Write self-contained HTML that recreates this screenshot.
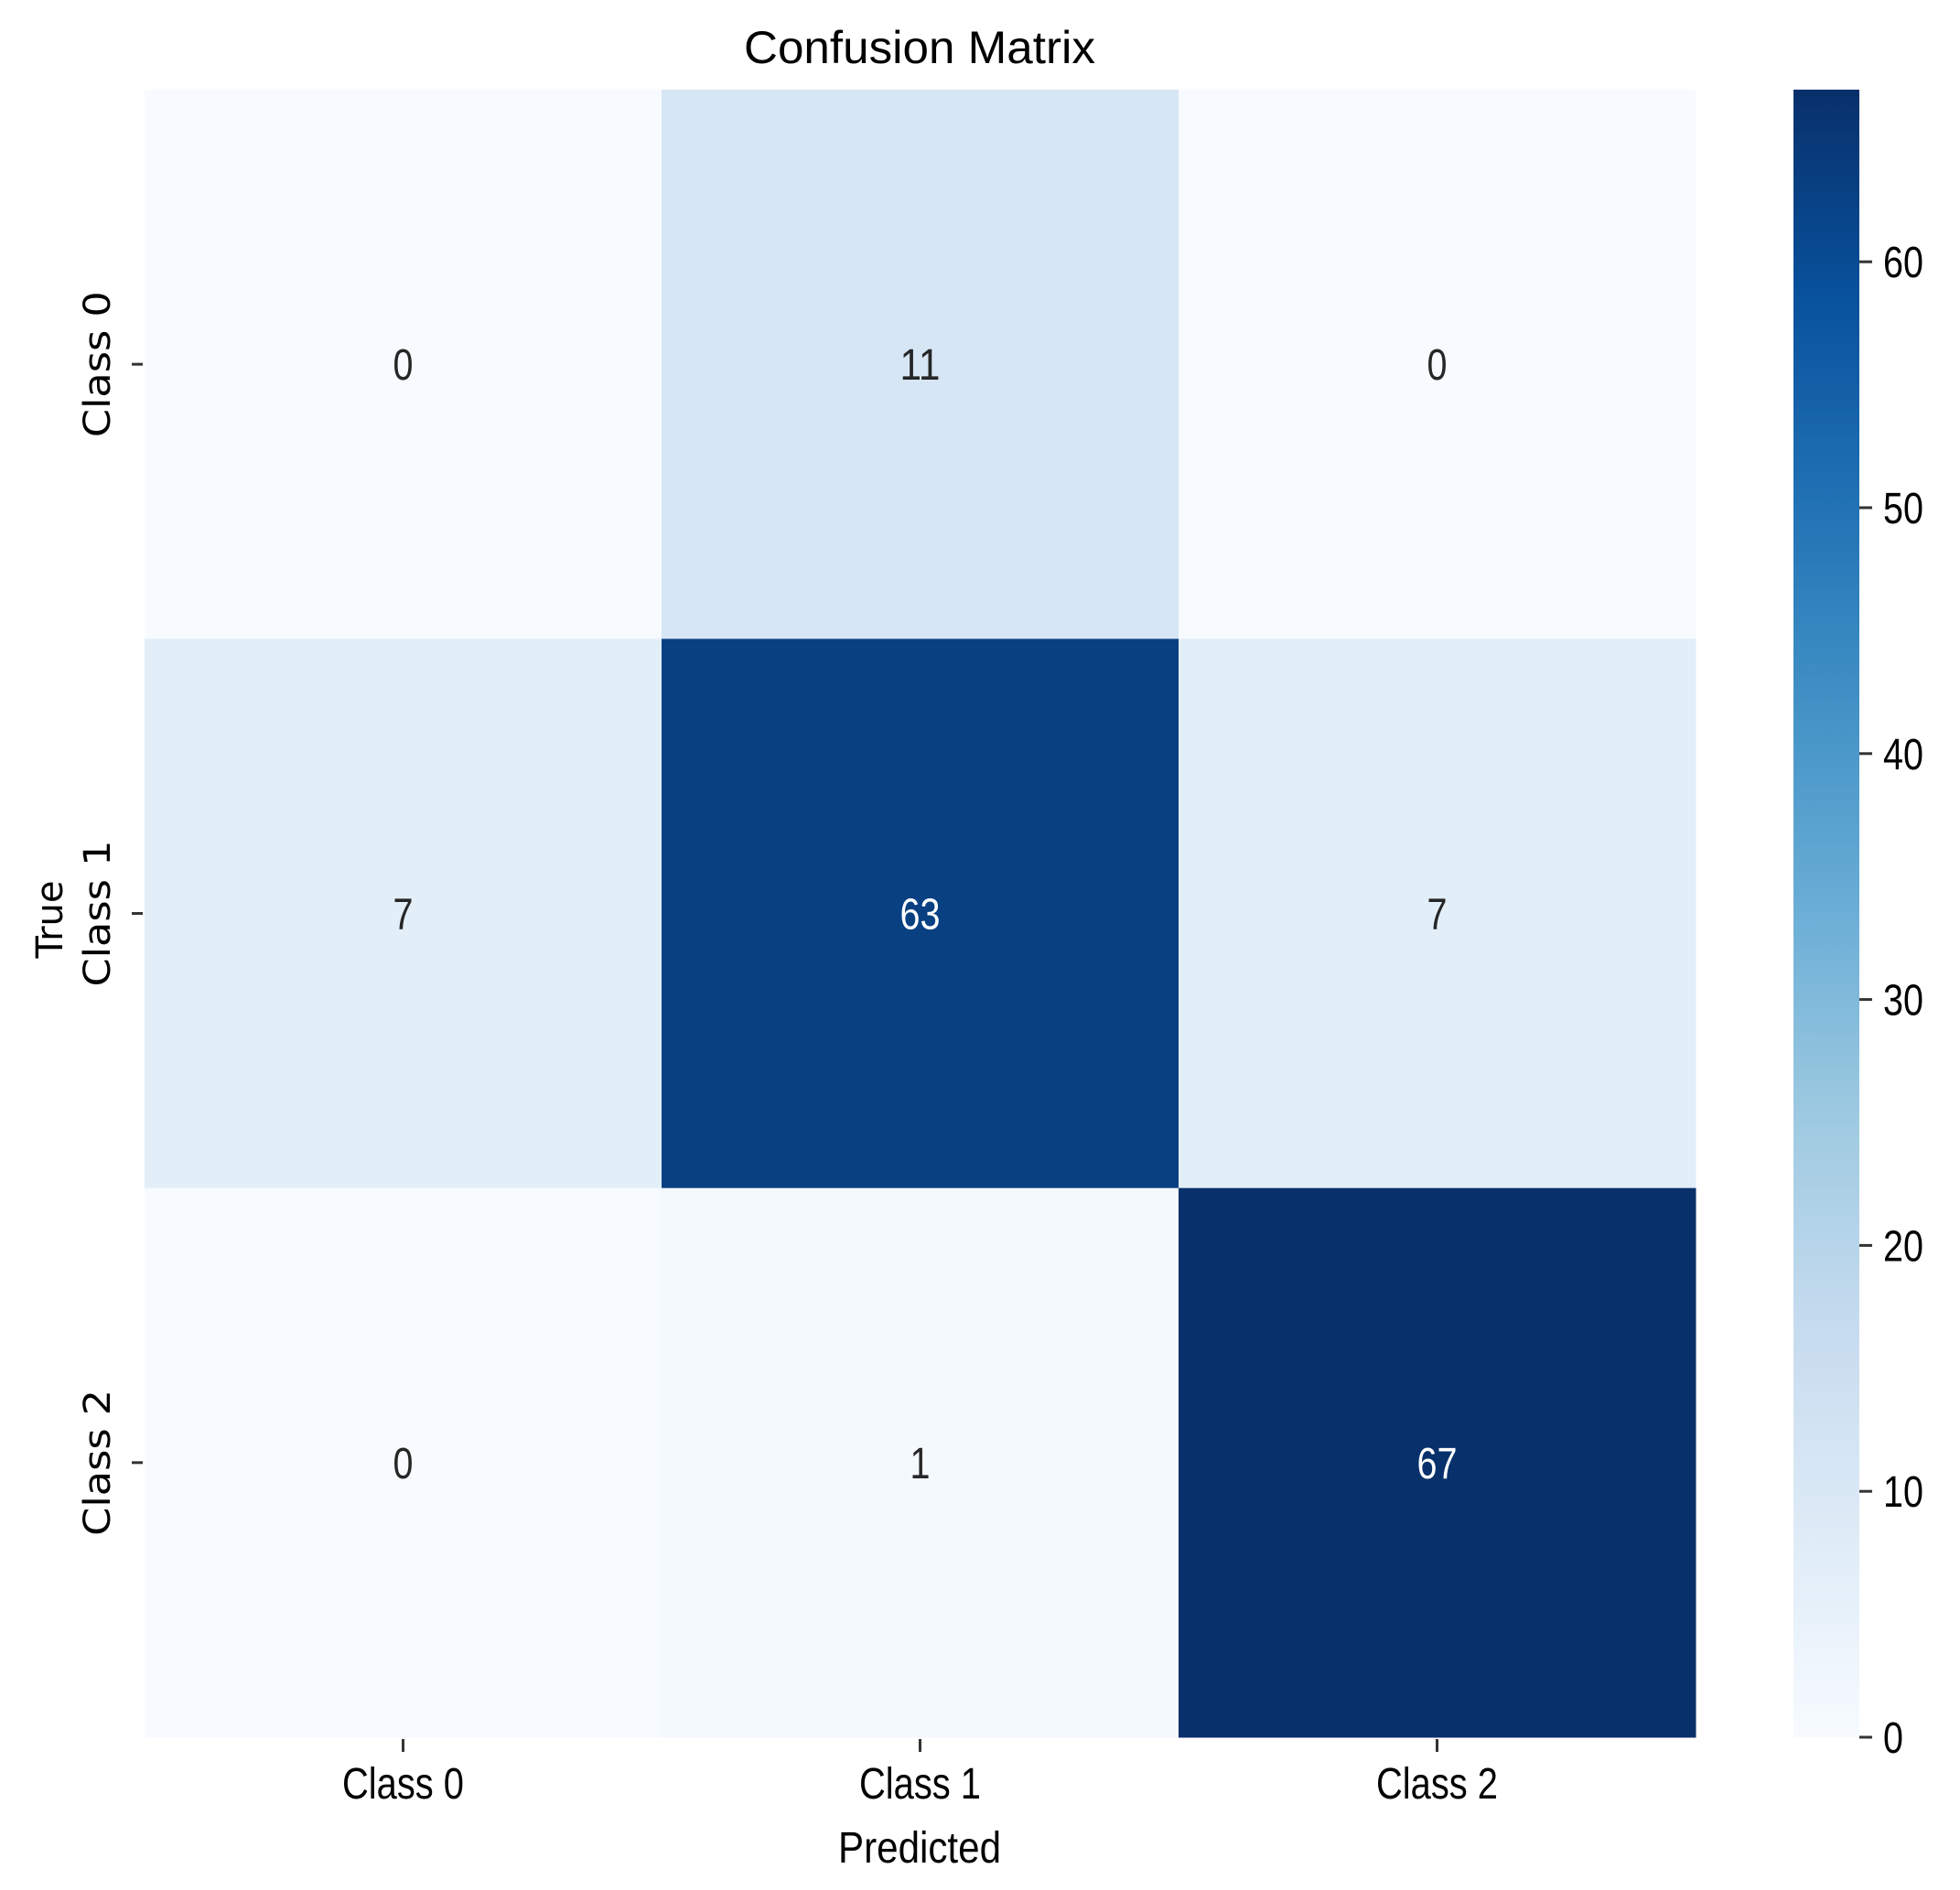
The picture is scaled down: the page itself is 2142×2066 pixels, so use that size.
<!DOCTYPE html>
<html><head><meta charset="utf-8"><style>
html,body{margin:0;padding:0;background:#fff;}
svg{display:block;}
text{font-family:"Liberation Sans Narrow","Liberation Sans",sans-serif;}
</style></head><body>
<svg id="chart" width="2142" height="2066" viewBox="0 0 2142 2066" xmlns="http://www.w3.org/2000/svg">
<defs>
<linearGradient id="cbgrad" x1="0" y1="1" x2="0" y2="0">
<stop offset="0" stop-color="#f7fbff"/><stop offset="0.125" stop-color="#deebf7"/><stop offset="0.25" stop-color="#c6dbef"/><stop offset="0.375" stop-color="#9ecae1"/><stop offset="0.5" stop-color="#6baed6"/><stop offset="0.625" stop-color="#4292c6"/><stop offset="0.75" stop-color="#2171b5"/><stop offset="0.875" stop-color="#08519c"/><stop offset="1" stop-color="#08306b"/>
</linearGradient>
</defs>
<text x="1005" y="69" font-size="50" text-anchor="middle" fill="#000" textLength="384" lengthAdjust="spacingAndGlyphs">Confusion Matrix</text>
<g id="cells"></g>
<g id="xaxis"></g>
<g id="yaxis"></g>
<text x="1005" y="2036" font-size="48" text-anchor="middle" fill="#000" textLength="178" lengthAdjust="spacingAndGlyphs">Predicted</text>
<text transform="translate(68,1005) rotate(-90)" font-size="40" text-anchor="middle" fill="#000" style="font-family:'DejaVu Sans',sans-serif">True</text>
<rect x="1960" y="98" width="72" height="1801" fill="url(#cbgrad)"/>
<g id="cbticks"></g>
</svg>
<script>
const categories = ["Class 0","Class 1","Class 2"];
const row0 = [0, 11, 0];
const row1 = [7, 63, 7];
const row2 = [0, 1, 67];
const cbTicks = [0, 10, 20, 30, 40, 50, 60];
const vmin = 0, vmax = 67;

const NS = "http://www.w3.org/2000/svg";
const L = 158, R = 1853, T = 98, B = 1899;
const rows = [row0, row1, row2];
const n = categories.length;
const cw = (R - L) / n, ch = (B - T) / n;
const xScale = i => L + i * cw;
const yScale = i => T + i * ch;
const cbY = v => B - (v - vmin) / (vmax - vmin) * (B - T);

const stops = ["#f7fbff","#deebf7","#c6dbef","#9ecae1","#6baed6","#4292c6","#2171b5","#08519c","#08306b"];
function hex(h){return [1,3,5].map(i=>parseInt(h.substr(i,2),16));}
function blues(t){
  t = Math.max(0, Math.min(1, t));
  const p = t * (stops.length - 1), i = Math.min(Math.floor(p), stops.length - 2), f = p - i;
  const a = hex(stops[i]), b = hex(stops[i+1]);
  return "rgb(" + a.map((c,k)=>Math.round(c + (b[k]-c)*f)).join(",") + ")";
}
function mk(tag, attrs, parent){
  const e = document.createElementNS(NS, tag);
  for (const k in attrs) e.setAttribute(k, attrs[k]);
  parent.appendChild(e); return e;
}
const cells = document.getElementById("cells");
rows.forEach((row, r) => {
  row.forEach((v, c) => {
    const t = (v - vmin) / (vmax - vmin);
    const rect = mk("rect", {x: xScale(c), y: yScale(r), width: cw + 0.5, height: ch + 0.5, fill: blues(t)}, cells);
    
    
    const s = String(v);
    const tx = mk("text", {x: xScale(c) + cw/2, y: yScale(r) + ch/2 + 17, "font-size": 48, "text-anchor": "middle", fill: t > 0.5 ? "#ffffff" : "#262626", textLength: s.length * 22, lengthAdjust: "spacingAndGlyphs"}, cells);
    
    
    tx.textContent = s;
  });
});
const xaxis = document.getElementById("xaxis");
categories.forEach((cat, i) => {
  const cx = xScale(i) + cw/2;
  const tk = mk("line", {x1: cx, x2: cx, y1: B + 2, y2: B + 16, stroke: "#333", "stroke-width": 3}, xaxis);
  
  
  const lb = mk("text", {x: cx, y: 1966, "font-size": 48, "text-anchor": "middle", fill: "#000", textLength: 133, lengthAdjust: "spacingAndGlyphs"}, xaxis);
  
  
  lb.textContent = cat;
});
const yaxis = document.getElementById("yaxis");
categories.forEach((cat, i) => {
  const cy = yScale(i) + ch/2;
  const tk = mk("line", {x1: 144, x2: 156, y1: cy, y2: cy, stroke: "#333", "stroke-width": 3}, yaxis);
  
  
  const lb = mk("text", {transform: "translate(120," + cy + ") rotate(-90)", "font-size": 40, "text-anchor": "middle", fill: "#000", textLength: 160, lengthAdjust: "spacingAndGlyphs", style: "font-family:'DejaVu Sans',sans-serif"}, yaxis);
  
  
  lb.textContent = cat;
});
const cbt = document.getElementById("cbticks");
cbTicks.forEach((v, i) => {
  const y = cbY(v);
  const tk = mk("line", {x1: 2032, x2: 2046, y1: y, y2: y, stroke: "#333", "stroke-width": 3}, cbt);
  
  
  const s = String(v);
  const lb = mk("text", {x: 2058, y: y + 17, "font-size": 48, fill: "#000", textLength: s.length * 22, lengthAdjust: "spacingAndGlyphs"}, cbt);
  
  
  lb.textContent = s;
});
</script>
</body></html>
